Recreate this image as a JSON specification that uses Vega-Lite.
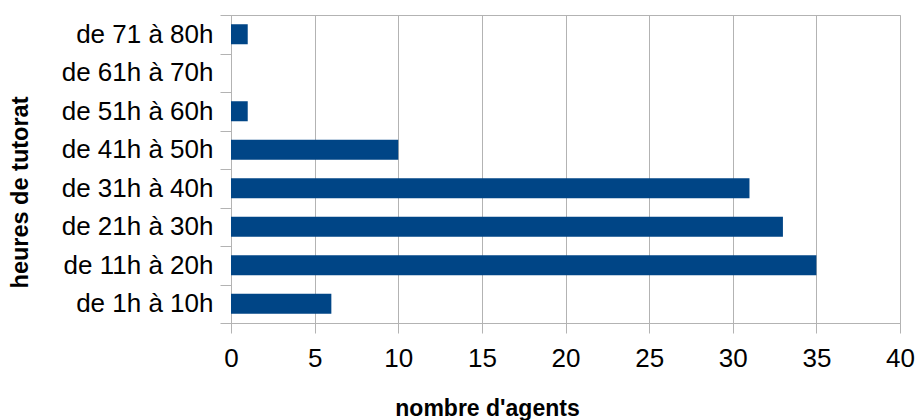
{
  "$schema": "https://vega.github.io/schema/vega-lite/v6.json",
  "autosize": "none",
  "width": 669,
  "height": 308,
  "padding": {"left": 231, "top": 15, "right": 18, "bottom": 97},
  "background": "white",
  "config": {
    "font": "Liberation Sans",
    "view": {"stroke": "#b3b3b3", "strokeWidth": 1}
  },
  "data": {
    "values": [
      {"heures": "de 71 à 80h", "agents": 1},
      {"heures": "de 61h à 70h", "agents": 0},
      {"heures": "de 51h à 60h", "agents": 1},
      {"heures": "de 41h à 50h", "agents": 10},
      {"heures": "de 31h à 40h", "agents": 31},
      {"heures": "de 21h à 30h", "agents": 33},
      {"heures": "de 11h à 20h", "agents": 35},
      {"heures": "de 1h à 10h", "agents": 6}
    ]
  },
  "mark": {"type": "bar", "color": "#004586", "height": {"band": 0.52}},
  "encoding": {
    "y": {
      "field": "heures",
      "type": "nominal",
      "sort": null,
      "scale": {"paddingInner": 0, "paddingOuter": 0},
      "axis": {
        "title": "heures de tutorat",
        "titleFont": "Liberation Sans",
        "titleFontSize": 23.5,
        "titleFontWeight": "bold",
        "titleColor": "black",
        "titleX": -211,
        "titleY": 177,
        "titleAngle": -90,
        "titleBaseline": "middle",
        "titleAlign": "center",
        "labelFontSize": 26,
        "labelColor": "black",
        "labelPadding": 7,
        "labelLimit": 300,
        "tickSize": 11,
        "tickColor": "#b3b3b3",
        "domainColor": "#b3b3b3",
        "tickBand": "extent",
        "grid": false
      }
    },
    "x": {
      "field": "agents",
      "type": "quantitative",
      "scale": {"domain": [0, 40], "nice": false},
      "axis": {
        "title": "nombre d'agents",
        "titleFont": "Liberation Sans",
        "titleFontSize": 23,
        "titleFontWeight": "bold",
        "titleColor": "black",
        "titleX": 256,
        "titleY": 85,
        "titleBaseline": "middle",
        "titleAlign": "center",
        "values": [0, 5, 10, 15, 20, 25, 30, 35, 40],
        "labelFontSize": 26,
        "labelColor": "black",
        "labelPadding": 12,
        "labelFlush": false,
        "tickSize": 10,
        "tickColor": "#b3b3b3",
        "domainColor": "#b3b3b3",
        "grid": true,
        "gridColor": "#b3b3b3",
        "gridOpacity": 1
      }
    }
  }
}
